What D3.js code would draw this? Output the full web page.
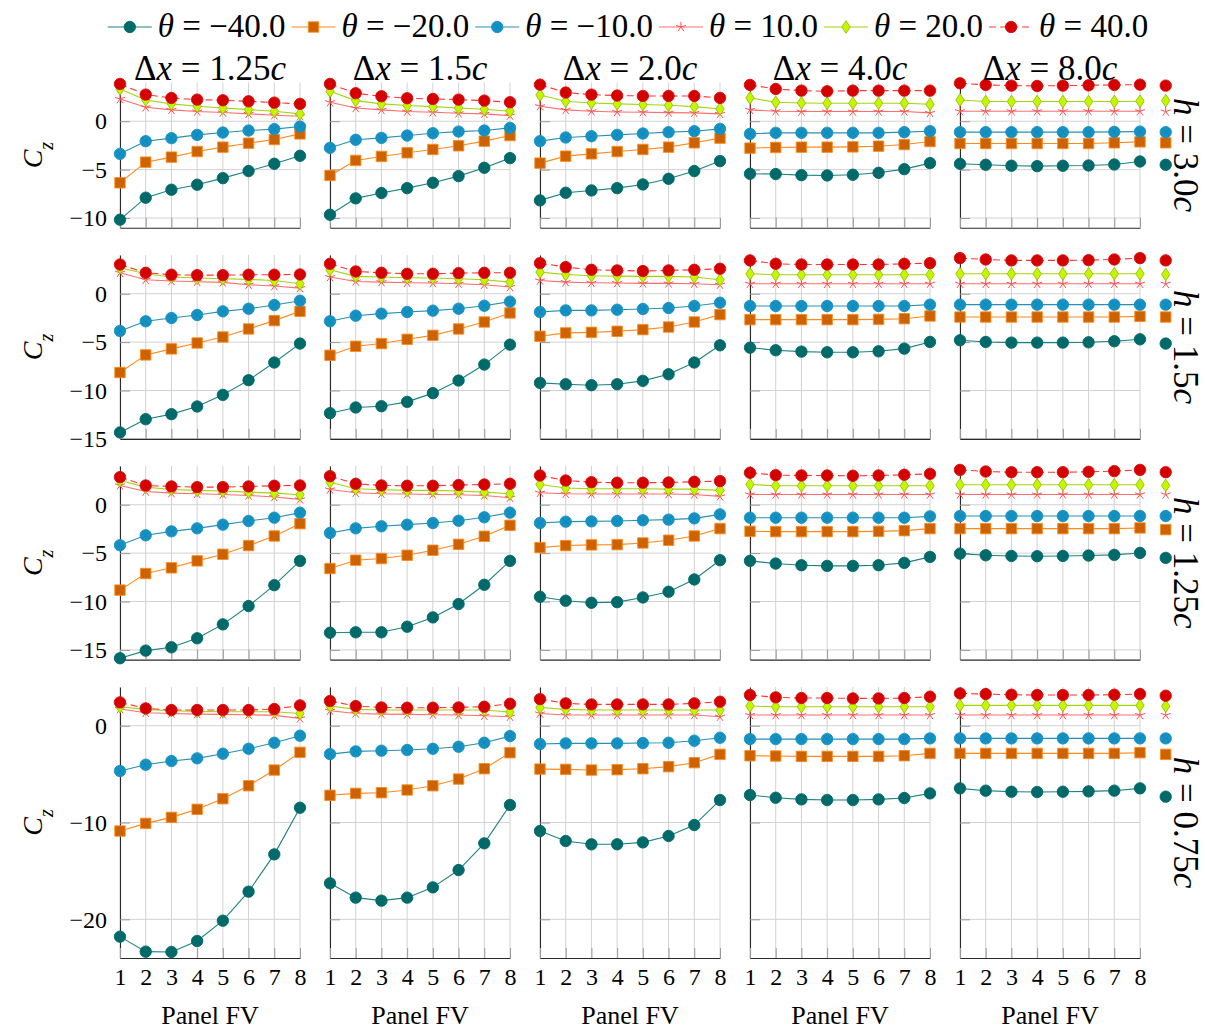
<!DOCTYPE html>
<html><head><meta charset="utf-8">
<script src="https://cdn.jsdelivr.net/npm/d3@7"></script>
<style>
body{margin:0;background:#fff}
text{font-family:"Liberation Serif","DejaVu Serif",serif;fill:#000}
</style>
</head><body>
<svg id="chart" width="1205" height="1030"></svg>
<script>
// Facet labels and axes
const spacings = ["1.25", "1.5", "2.0", "4.0", "8.0"];
const heights = ["3.0", "1.5", "1.25", "0.75"];
const thetaLabels = ["−40.0", "−20.0", "−10.0", "10.0", "20.0", "40.0"];
const panels = [1, 2, 3, 4, 5, 6, 7, 8];
const yDomains = [[-11, 4], [-15, 4], [-16, 4], [-24, 4]];
const yTickValues = [[0, -5, -10], [0, -5, -10, -15], [0, -5, -10, -15], [0, -10, -20]];

// C_z per panel FV, indexed [row h][column Δx][panel]
const thetaM40 = [
  [[-10.17,-7.9,-7.08,-6.56,-5.88,-5.15,-4.4,-3.57],[-9.66,-7.97,-7.42,-6.91,-6.36,-5.67,-4.81,-3.81],[-8.18,-7.39,-7.15,-6.91,-6.53,-5.95,-5.15,-4.12],[-5.43,-5.46,-5.57,-5.6,-5.53,-5.33,-4.95,-4.33],[-4.4,-4.5,-4.6,-4.64,-4.6,-4.57,-4.47,-4.16]],
  [[-14.33,-12.96,-12.44,-11.65,-10.45,-8.93,-7.11,-5.15],[-12.34,-11.75,-11.62,-11.17,-10.27,-8.97,-7.32,-5.26],[-9.21,-9.35,-9.45,-9.35,-9.0,-8.32,-7.11,-5.33],[-5.57,-5.84,-5.98,-6.05,-6.05,-5.95,-5.67,-4.98],[-4.81,-4.98,-5.05,-5.05,-5.05,-5.02,-4.91,-4.71]],
  [[-15.86,-15.07,-14.73,-13.8,-12.36,-10.47,-8.31,-5.8],[-13.22,-13.18,-13.18,-12.6,-11.64,-10.26,-8.27,-5.8],[-9.51,-9.92,-10.13,-10.06,-9.58,-8.99,-7.72,-5.73],[-5.8,-6.08,-6.25,-6.32,-6.32,-6.25,-6.01,-5.39],[-5.05,-5.22,-5.29,-5.32,-5.29,-5.25,-5.18,-4.98]],
  [[-21.79,-23.34,-23.37,-22.24,-20.14,-17.14,-13.29,-8.47],[-16.28,-17.76,-18.07,-17.76,-16.7,-14.91,-12.15,-8.19],[-10.88,-11.91,-12.25,-12.25,-12.05,-11.39,-10.26,-7.68],[-7.16,-7.44,-7.61,-7.68,-7.68,-7.61,-7.47,-6.99],[-6.47,-6.71,-6.82,-6.85,-6.82,-6.78,-6.71,-6.47]]
];
const thetaM20 = [
  [[-6.36,-4.23,-3.71,-3.13,-2.68,-2.27,-1.89,-1.31],[-5.6,-4.05,-3.64,-3.26,-2.92,-2.54,-2.06,-1.48],[-4.33,-3.61,-3.37,-3.13,-2.92,-2.68,-2.23,-1.75],[-2.78,-2.71,-2.68,-2.68,-2.65,-2.58,-2.41,-2.1],[-2.3,-2.3,-2.3,-2.3,-2.3,-2.3,-2.23,-2.13]],
  [[-8.14,-6.32,-5.7,-5.09,-4.47,-3.64,-2.78,-1.82],[-6.36,-5.43,-5.15,-4.71,-4.3,-3.64,-2.92,-1.99],[-4.4,-4.05,-3.99,-3.88,-3.71,-3.44,-2.92,-2.16],[-2.68,-2.68,-2.68,-2.68,-2.68,-2.65,-2.58,-2.3],[-2.41,-2.41,-2.41,-2.41,-2.41,-2.41,-2.41,-2.34]],
  [[-8.82,-7.11,-6.52,-5.8,-5.12,-4.22,-3.23,-1.96],[-6.59,-5.73,-5.56,-5.22,-4.7,-4.09,-3.26,-2.13],[-4.43,-4.22,-4.15,-4.12,-3.95,-3.67,-3.23,-2.47],[-2.75,-2.78,-2.78,-2.78,-2.78,-2.75,-2.68,-2.47],[-2.47,-2.47,-2.47,-2.47,-2.47,-2.47,-2.47,-2.4]],
  [[-10.88,-10.09,-9.47,-8.64,-7.54,-6.2,-4.58,-2.75],[-7.19,-6.99,-6.92,-6.64,-6.2,-5.51,-4.44,-2.79],[-4.48,-4.51,-4.58,-4.54,-4.44,-4.23,-3.82,-2.96],[-3.1,-3.13,-3.17,-3.17,-3.17,-3.17,-3.1,-2.86],[-2.86,-2.86,-2.86,-2.86,-2.86,-2.86,-2.86,-2.79]]
];
const thetaM10 = [
  [[-3.37,-2.06,-1.75,-1.41,-1.17,-0.96,-0.82,-0.55],[-2.75,-1.92,-1.72,-1.48,-1.24,-1.07,-0.96,-0.69],[-2.06,-1.68,-1.55,-1.41,-1.27,-1.13,-1.03,-0.79],[-1.31,-1.2,-1.2,-1.2,-1.2,-1.2,-1.13,-1.03],[-1.13,-1.13,-1.13,-1.13,-1.13,-1.13,-1.1,-1.07]],
  [[-3.85,-2.85,-2.51,-2.2,-1.82,-1.55,-1.17,-0.72],[-2.85,-2.27,-2.06,-1.89,-1.75,-1.55,-1.24,-0.82],[-1.89,-1.72,-1.72,-1.65,-1.58,-1.48,-1.27,-0.93],[-1.27,-1.27,-1.27,-1.27,-1.27,-1.27,-1.27,-1.13],[-1.13,-1.13,-1.13,-1.13,-1.13,-1.13,-1.13,-1.13]],
  [[-4.19,-3.16,-2.75,-2.44,-2.06,-1.68,-1.34,-0.82],[-2.92,-2.44,-2.23,-2.06,-1.89,-1.65,-1.3,-0.82],[-1.89,-1.75,-1.72,-1.68,-1.61,-1.54,-1.41,-1.0],[-1.34,-1.34,-1.34,-1.34,-1.34,-1.34,-1.34,-1.2],[-1.17,-1.17,-1.17,-1.17,-1.17,-1.17,-1.17,-1.17]],
  [[-4.68,-4.03,-3.65,-3.37,-2.89,-2.38,-1.76,-1.03],[-2.93,-2.65,-2.58,-2.51,-2.38,-2.17,-1.76,-1.07],[-1.89,-1.82,-1.82,-1.82,-1.79,-1.76,-1.55,-1.24],[-1.38,-1.38,-1.38,-1.38,-1.38,-1.38,-1.38,-1.31],[-1.31,-1.31,-1.31,-1.31,-1.31,-1.31,-1.31,-1.31]]
];
const thetaP10 = [
  [[2.3,1.44,1.17,1.0,0.9,0.76,0.62,0.52],[1.96,1.37,1.17,1.0,0.93,0.82,0.76,0.58],[1.55,1.17,1.03,0.96,0.93,0.89,0.86,0.76],[1.17,1.03,1.0,1.0,1.0,1.0,1.0,0.86],[1.03,1.03,1.03,1.03,1.03,1.03,1.03,1.03]],
  [[2.16,1.44,1.31,1.24,1.17,0.93,0.79,0.58],[1.72,1.27,1.2,1.13,1.1,1.03,0.93,0.69],[1.37,1.2,1.13,1.1,1.07,1.07,1.03,0.93],[1.03,1.03,1.03,1.03,1.03,1.03,1.03,1.03],[1.03,1.03,1.03,1.03,1.03,1.03,1.03,1.03]],
  [[1.99,1.37,1.2,1.13,1.06,0.96,0.79,0.55],[1.58,1.24,1.13,1.1,1.06,1.03,0.96,0.72],[1.24,1.13,1.1,1.1,1.1,1.1,1.06,0.86],[1.06,1.06,1.06,1.06,1.06,1.06,1.06,1.06],[1.06,1.06,1.06,1.06,1.06,1.06,1.06,1.06]],
  [[1.72,1.34,1.27,1.2,1.17,1.14,1.07,0.76],[1.55,1.27,1.2,1.17,1.14,1.1,1.03,0.93],[1.27,1.1,1.1,1.1,1.1,1.1,1.1,0.93],[1.1,1.1,1.1,1.1,1.1,1.1,1.1,1.1],[1.1,1.1,1.1,1.1,1.1,1.1,1.1,1.1]]
];
const thetaP20 = [
  [[3.33,2.2,1.79,1.55,1.37,1.2,1.03,0.76],[3.09,2.13,1.79,1.62,1.51,1.37,1.24,1.03],[2.71,2.06,1.89,1.79,1.72,1.65,1.51,1.27],[2.41,1.96,1.89,1.86,1.86,1.86,1.86,1.75],[2.2,2.03,2.03,2.03,2.03,2.03,2.03,2.06]],
  [[2.68,2.06,1.72,1.62,1.55,1.48,1.37,1.03],[2.47,1.79,1.72,1.65,1.62,1.55,1.44,1.2],[2.23,1.99,1.86,1.82,1.79,1.79,1.72,1.44],[2.06,1.96,1.96,1.96,1.96,1.96,1.96,1.96],[2.06,2.06,2.06,2.06,2.06,2.06,2.06,2.06]],
  [[2.5,1.82,1.58,1.48,1.41,1.3,1.2,1.03],[2.33,1.65,1.54,1.48,1.48,1.41,1.3,1.13],[2.09,1.72,1.65,1.65,1.65,1.61,1.61,1.48],[2.09,1.96,1.96,1.96,1.96,1.96,1.96,1.96],[2.06,2.06,2.06,2.06,2.06,2.06,2.06,2.06]],
  [[1.96,1.69,1.55,1.48,1.45,1.45,1.45,1.27],[2.03,1.69,1.62,1.62,1.62,1.62,1.62,1.41],[1.89,1.69,1.62,1.62,1.62,1.62,1.62,1.62],[2.03,1.96,1.96,1.96,1.96,1.96,1.96,1.96],[2.1,2.1,2.1,2.1,2.1,2.1,2.1,2.1]]
];
const thetaP40 = [
  [[3.85,2.75,2.4,2.23,2.16,2.06,1.92,1.79],[3.85,2.89,2.58,2.37,2.3,2.23,2.13,1.96],[3.78,2.96,2.75,2.65,2.61,2.61,2.61,2.41],[3.75,3.33,3.16,3.09,3.16,3.16,3.16,3.16],[3.92,3.75,3.68,3.64,3.68,3.71,3.75,3.78]],
  [[3.02,2.16,1.96,1.92,1.92,1.96,1.96,1.99],[3.09,2.3,2.16,2.06,2.06,2.13,2.16,2.16],[3.16,2.75,2.47,2.41,2.34,2.41,2.47,2.58],[3.44,3.09,3.02,3.02,3.02,3.02,3.09,3.16],[3.68,3.54,3.44,3.44,3.44,3.47,3.54,3.68]],
  [[2.85,1.99,1.89,1.82,1.82,1.89,1.96,1.99],[2.95,2.16,1.99,1.96,1.96,2.03,2.09,2.16],[3.02,2.5,2.33,2.27,2.27,2.3,2.37,2.44],[3.3,3.06,3.02,3.02,2.99,3.02,3.09,3.19],[3.6,3.43,3.36,3.36,3.36,3.4,3.47,3.6]],
  [[2.41,1.79,1.62,1.62,1.62,1.62,1.72,2.1],[2.55,2.03,1.89,1.86,1.86,1.89,1.96,2.27],[2.75,2.31,2.2,2.2,2.2,2.2,2.31,2.48],[3.17,2.93,2.86,2.86,2.82,2.82,2.86,3.0],[3.34,3.27,3.2,3.17,3.17,3.17,3.2,3.27]]
];
// Extra point at panel 9 of the Δx = 8.0c column, one value per θ (−40 … 40), per row
const panel9Values = [
  [-4.5, -2.23, -1.13, 1.0, 2.13, 3.68],
  [-5.15, -2.41, -1.13, 1.03, 1.99, 3.44],
  [-5.49, -2.57, -1.17, 1.06, 1.99, 3.36],
  [-7.33, -2.96, -1.31, 1.1, 2.03, 3.1]
];

const seriesData = [thetaM40, thetaM20, thetaM10, thetaP10, thetaP20, thetaP40];
const seriesStyle = [
  {line: "#1d8282", fill: "#006a6a", stroke: "#006a6a", shape: "circle"},
  {line: "#ff8a1c", fill: "#cc6200", stroke: "#ff8a1c", shape: "square"},
  {line: "#2b8fb4", fill: "#1592c4", stroke: "#1592c4", shape: "ocircle"},
  {line: "#ff6e6e", fill: "none", stroke: "#ff4f4f", shape: "star"},
  {line: "#a4d40c", fill: "#c6f500", stroke: "#94c200", shape: "diamond"},
  {line: "#ff3434", fill: "#d40000", stroke: "#dc0a0a", shape: "circle", dash: "7,4"}
];

// Layout
const colLeft = c => 120 + 210 * c;
const plotW = 180;
const rowTop = [82.5, 255, 466, 687];
const pxPerUnit = 9.68;
const serif = "Liberation Serif, DejaVu Serif, serif";

const svg = d3.select("#chart");
svg.append("rect").attr("width", 1205).attr("height", 1030).attr("fill", "#fff");

function markerPath(shape) {
  const p = d3.path();
  if (shape === "circle" || shape === "ocircle") {
    p.arc(0, 0, 5.7, 0, 2 * Math.PI);
  } else if (shape === "square") {
    p.rect(-5.2, -5.2, 10.4, 10.4);
  } else if (shape === "diamond") {
    p.moveTo(0, -6.3); p.lineTo(4.2, 0); p.lineTo(0, 6.3); p.lineTo(-4.2, 0); p.closePath();
  } else if (shape === "star") {
    for (let k = 0; k < 5; k++) {
      const a = -Math.PI / 2 + k * 2 * Math.PI / 5;
      p.moveTo(0, 0); p.lineTo(5.2 * Math.cos(a), 5.2 * Math.sin(a));
    }
  }
  return p.toString();
}

function drawMarker(g, st, x, y) {
  const m = g.append("g").attr("transform", `translate(${x},${y})`);
  m.append("path").attr("d", markerPath(st.shape))
    .attr("fill", st.fill).attr("stroke", st.stroke).attr("stroke-width", st.shape === "star" ? 1 : 0.9);
  if (st.shape === "ocircle") {
    m.append("path").attr("d", "M-3.6,-3.6L3.6,3.6M-3.6,3.6L3.6,-3.6")
      .attr("stroke", "#1482ad").attr("stroke-width", 0.8).attr("fill", "none");
  }
}

function richText(sel, parts) {
  sel.attr("font-family", serif);
  parts.forEach(pt => {
    const t = sel.append("tspan").text(pt.t);
    if (pt.it) t.attr("font-style", "italic");
    if (pt.sub) t.attr("baseline-shift", "sub").attr("font-size", "0.72em");
  });
  return sel;
}

const fmt = d => d < 0 ? "−" + (-d) : String(d);

heights.forEach((hLabel, r) => {
  const [y0, y1] = yDomains[r];
  const h = (y1 - y0) * pxPerUnit;
  spacings.forEach((dx, c) => {
    const g = svg.append("g").attr("transform", `translate(${colLeft(c)},${rowTop[r]})`);
    const x = d3.scaleLinear().domain([1, 8]).range([0, plotW]);
    const y = d3.scaleLinear().domain(yDomains[r]).range([h, 0]);

    // grid
    g.append("g").selectAll("line").data(panels).join("line")
      .attr("x1", d => x(d)).attr("x2", d => x(d)).attr("y1", 0).attr("y2", h)
      .attr("stroke", "#d2d2d2").attr("stroke-width", 1);
    g.append("g").selectAll("line").data(yTickValues[r]).join("line")
      .attr("x1", 0).attr("x2", plotW).attr("y1", d => y(d)).attr("y2", d => y(d))
      .attr("stroke", "#d2d2d2").attr("stroke-width", 1);

    // axes
    const ya = d3.axisLeft(y).tickValues(yTickValues[r]).tickSize(-10).tickSizeOuter(0).tickPadding(13)
      .tickFormat(c === 0 ? fmt : () => "");
    const yg = g.append("g").call(ya);
    const xa = d3.axisBottom(x).tickValues(panels).tickSize(-10).tickSizeOuter(0).tickPadding(10)
      .tickFormat(r === heights.length - 1 ? d3.format("d") : () => "");
    const xg = g.append("g").attr("transform", `translate(0,${h})`).call(xa);
    [yg, xg].forEach(a => {
      a.attr("font-family", serif);
      a.select(".domain").attr("stroke", "#2a2a2a").attr("stroke-width", 1.1);
      a.selectAll(".tick line").attr("stroke", "#9a9a9a").attr("stroke-width", 1);
      a.selectAll(".tick text").attr("font-family", serif).attr("font-size", 24).attr("fill", "#000");
    });

    // series
    const line = d3.line().x((d, i) => x(panels[i])).y(d => y(d));
    seriesData.forEach((sd, s) => {
      const st = seriesStyle[s];
      const vals = sd[r][c];
      g.append("path").attr("d", line(vals)).attr("fill", "none")
        .attr("stroke", st.line).attr("stroke-width", 1.1)
        .attr("stroke-dasharray", st.dash || null);
      vals.forEach((v, i) => drawMarker(g, st, x(panels[i]), y(v)));
      if (c === spacings.length - 1) drawMarker(g, st, x(9), y(panel9Values[r][s]));
    });

    // column titles
    if (r === 0) {
      richText(svg.append("text").attr("x", colLeft(c) + plotW / 2).attr("y", 80)
        .attr("text-anchor", "middle").attr("font-size", 35),
        [{t: "Δ"}, {t: "x", it: true}, {t: " = " + dx}, {t: "c", it: true}]);
    }
    if (r === heights.length - 1) {
      svg.append("text").attr("x", colLeft(c) + plotW / 2).attr("y", 1024)
        .attr("font-family", serif).attr("text-anchor", "middle").attr("font-size", 26).text("Panel FV");
    }
  });

  const mid = rowTop[r] + h / 2;
  richText(svg.append("text").attr("transform", `translate(42,${mid}) rotate(-90)`)
    .attr("text-anchor", "middle").attr("font-size", 28),
    [{t: "C", it: true}, {t: "z", it: true, sub: true}]);
  richText(svg.append("text").attr("transform", `translate(1174,${mid}) rotate(90)`)
    .attr("text-anchor", "middle").attr("font-size", 35),
    [{t: "h", it: true}, {t: " = " + hLabel}, {t: "c", it: true}]);
});

// legend
const leg = svg.append("g");
let cursor = 0;
thetaLabels.forEach((lab, s) => {
  const st = seriesStyle[s];
  const it = leg.append("g").attr("transform", `translate(${cursor},0)`);
  it.append("line").attr("x1", 0).attr("x2", 44).attr("y1", 0).attr("y2", 0)
    .attr("stroke", st.line).attr("stroke-width", 1.1).attr("stroke-dasharray", st.dash || null);
  drawMarker(it, st, 22, 0);
  const t = richText(it.append("text").attr("x", 50).attr("y", 10).attr("font-size", 33),
    [{t: "θ", it: true}, {t: " = " + lab}]);
  cursor += 50 + t.node().getComputedTextLength() + 6;
});
const legW = cursor - 6;
leg.attr("transform", `translate(${628 - legW / 2},27)`);
</script>
</body></html>
